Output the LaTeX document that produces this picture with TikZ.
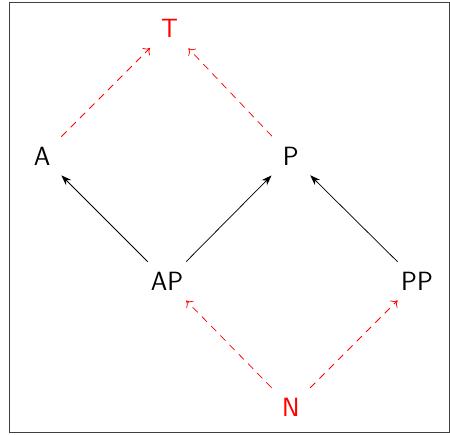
\documentclass[tikz,border=0pt]{standalone}
\usetikzlibrary{arrows.meta}
\begin{document}
\begin{tikzpicture}[x=3cm,y=3cm,
  lbl/.style={circle,minimum size=1.3cm,inner sep=0pt,font=\sffamily\fontsize{18}{20}\selectfont},
  redlbl/.style={lbl,text=red},
  blk/.style={-{Stealth[length=7pt,width=5pt]},line width=0.5pt},
  reddash/.style={-{To[length=4pt,width=7pt]},red,dashed,dash pattern=on 5pt off 4pt,line width=0.5pt}]
\useasboundingbox (-1.008cm,-0.672cm) rectangle (9.792cm,9.744cm);
\draw[line width=0.6pt,black!75] (-0.792cm,-0.624cm) rectangle (9.768cm,9.696cm);
\node[redlbl] (T) at (1.02,3.02) {T};
\node[lbl] (A) at (0,2) {A};
\node[lbl] (P) at (1.99,2) {P};
\node[lbl] (AP) at (1.0,1.0) {AP};
\node[lbl] (PP) at (3.0,1.0) {PP};
\node[redlbl] (N) at (1.99,-0.01) {N};
\draw[reddash] (A) -- (T);
\draw[reddash] (P) -- (T);
\draw[reddash] (N) -- (AP);
\draw[reddash] (N) -- (PP);
\draw[blk] (AP) -- (A);
\draw[blk] (AP) -- (P);
\draw[blk] (PP) -- (P);
\end{tikzpicture}
\end{document}
